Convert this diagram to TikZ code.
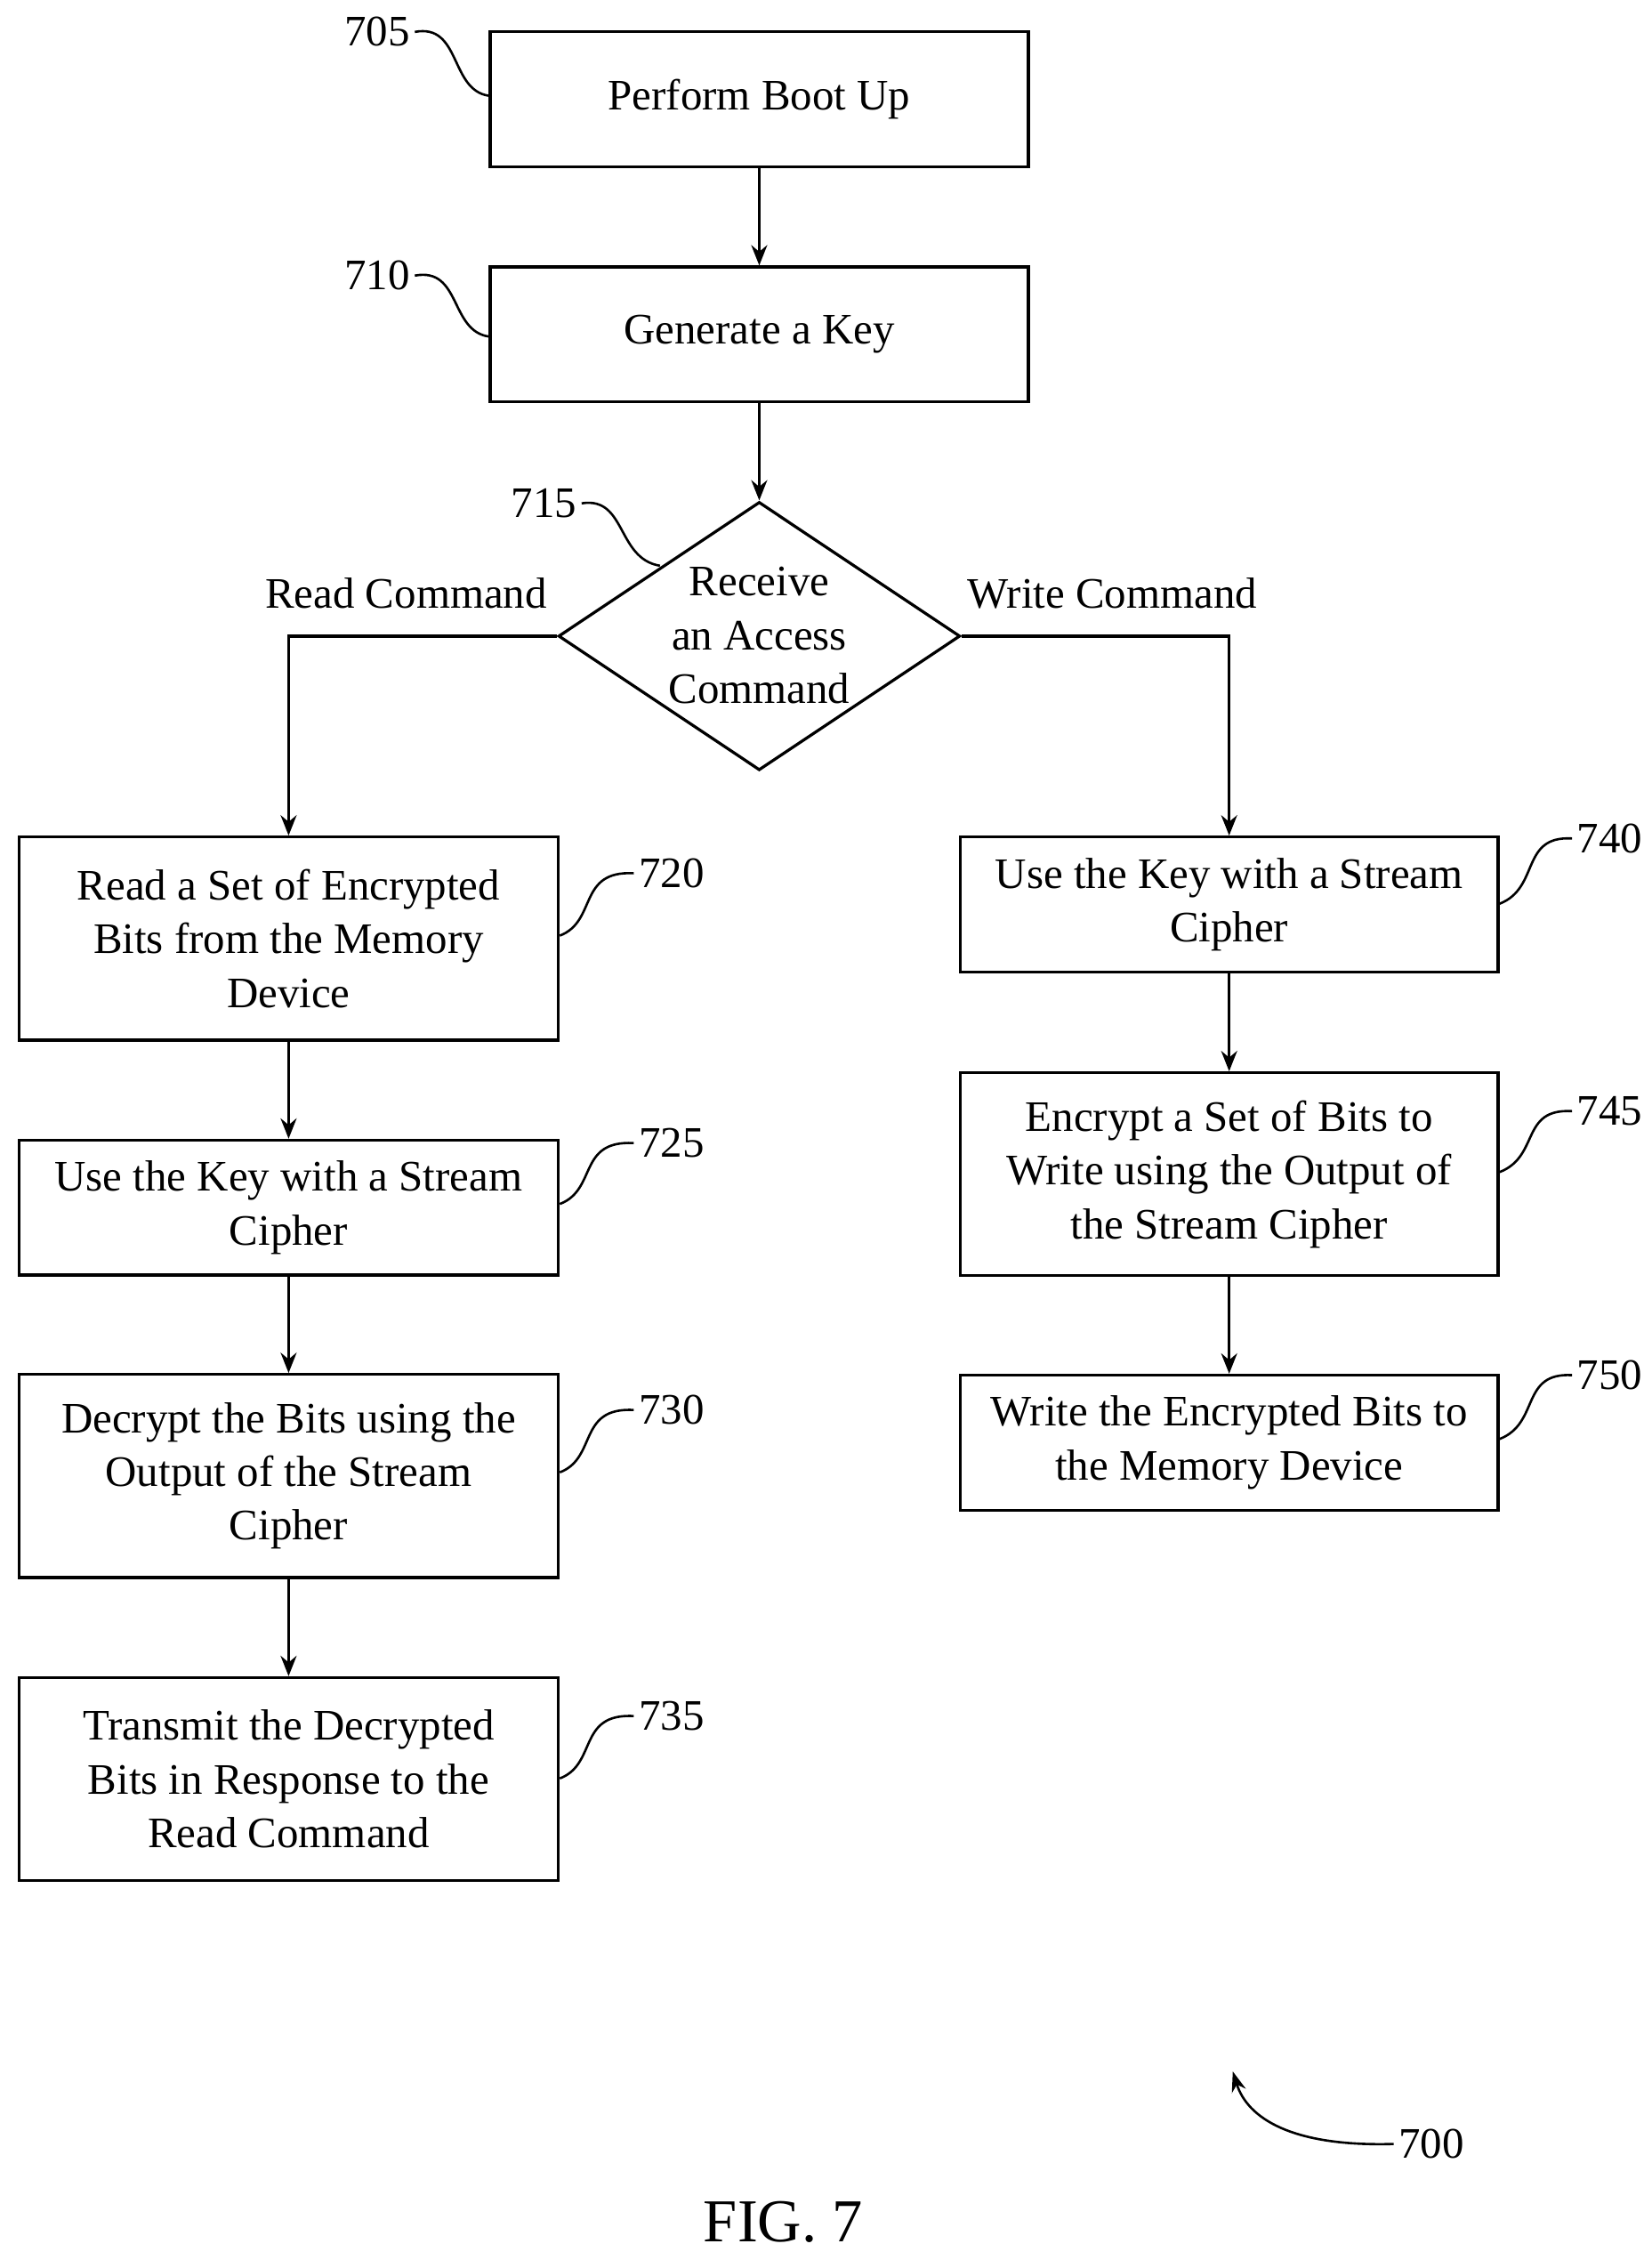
\documentclass[tikz,border=0pt]{standalone}
\usepackage{fontspec}
\setmainfont{Liberation Serif}
\usetikzlibrary{shapes.geometric,arrows.meta}
\begin{document}
\begin{tikzpicture}[x=1pt,y=-1pt,
  box/.style={draw,line width=2pt,inner sep=0pt,align=center,font=\fontsize{30}{37}\selectfont},
  lbl/.style={font=\fontsize{30}{34}\selectfont},
  arr/.style={line width=2pt,-{Stealth[length=14pt,width=11pt]}},
  sq/.style={line width=1.6pt}]
\useasboundingbox (0,0) rectangle (1139,1558);
\node[box,minimum width=371pt,minimum height=93pt] (b705) at (523.5,68.5) {Perform Boot Up};
\node[box,minimum width=371pt,minimum height=93pt] (b710) at (523.5,230.5) {Generate a Key};
\node[box,diamond,aspect=1.5,minimum width=277pt,minimum height=185pt] (d715) at (523.5,438.5) {};
\node[align=center,font=\fontsize{30}{37}\selectfont] at (523.5,438) {Receive\\an Access\\Command};
\node[box,minimum width=372pt,minimum height=140pt] (b720) at (199,647) {Read a Set of Encrypted\\Bits from the Memory\\Device};
\node[box,minimum width=372pt,minimum height=93pt] (b725) at (199,832.5) {Use the Key with a Stream\\Cipher};
\node[box,minimum width=372pt,minimum height=140pt] (b730) at (199,1017.5) {Decrypt the Bits using the\\Output of the Stream\\Cipher};
\node[box,minimum width=372pt,minimum height=140pt] (b735) at (199,1226.5) {Transmit the Decrypted\\Bits in Response to the\\Read Command};
\node[box,minimum width=371pt,minimum height=93pt] (b740) at (847.5,623.5) {Use the Key with a Stream\\Cipher};
\node[box,minimum width=371pt,minimum height=140pt] (b745) at (847.5,809.5) {Encrypt a Set of Bits to\\Write using the Output of\\the Stream Cipher};
\node[box,minimum width=371pt,minimum height=93pt] (b750) at (847.5,994.5) {Write the Encrypted Bits to\\the Memory Device};
\node[lbl] (rc) at (280,409) {Read Command};
\node[lbl] (wc) at (767,409) {Write Command};
\draw[arr] (b705) -- (b710);
\draw[arr] (b710) -- (d715);
\draw[arr] (d715.west) -| (b720.north);
\draw[arr] (d715.east) -| (b740.north);
\draw[arr] (b720) -- (b725);
\draw[arr] (b725) -- (b730);
\draw[arr] (b730) -- (b735);
\draw[arr] (b740) -- (b745);
\draw[arr] (b745) -- (b750);
% reference labels
\node[lbl] (n705) at (260,22) {705};
\node[lbl] (n710) at (260,190) {710};
\node[lbl] (n715) at (375,347) {715};
\node[lbl] (n720) at (463,602) {720};
\node[lbl] (n725) at (463,788) {725};
\node[lbl] (n730) at (463,972) {730};
\node[lbl] (n735) at (463,1183) {735};
\node[lbl] (n740) at (1110,578) {740};
\node[lbl] (n745) at (1110,766) {745};
\node[lbl] (n750) at (1110,948) {750};
\node[lbl] (n700) at (987,1478) {700};
\node[font=\fontsize{42}{46}\selectfont] (fig) at (540,1532) {FIG. 7};
\draw[sq] (n705.east) .. controls (318,16) and (310,62) .. (b705.west |- 0,66);
\draw[sq] (n710.east) .. controls (318,184) and (310,228) .. (b710.west |- 0,232);
\draw[sq] (n715.east) .. controls (432,342) and (425,385) .. (455,390);
\draw[sq] (b720.east |- 0,645) .. controls (412,635) and (398,600) .. (n720.west);
\draw[sq] (b725.east |- 0,830) .. controls (412,820) and (398,786) .. (n725.west);
\draw[sq] (b730.east |- 0,1015) .. controls (412,1005) and (398,970) .. (n730.west);
\draw[sq] (b735.east |- 0,1226) .. controls (412,1216) and (398,1181) .. (n735.west);
\draw[sq] (b740.east |- 0,623) .. controls (1062,612) and (1048,576) .. (n740.west);
\draw[sq] (b745.east |- 0,808) .. controls (1062,797) and (1048,764) .. (n745.west);
\draw[sq] (b750.east |- 0,992) .. controls (1062,981) and (1048,946) .. (n750.west);
\draw[line width=1.6pt,-{Stealth[length=14pt,width=10pt]}] (n700.west) .. controls (890,1480) and (860,1460) .. (850,1428);
\end{tikzpicture}
\end{document}
